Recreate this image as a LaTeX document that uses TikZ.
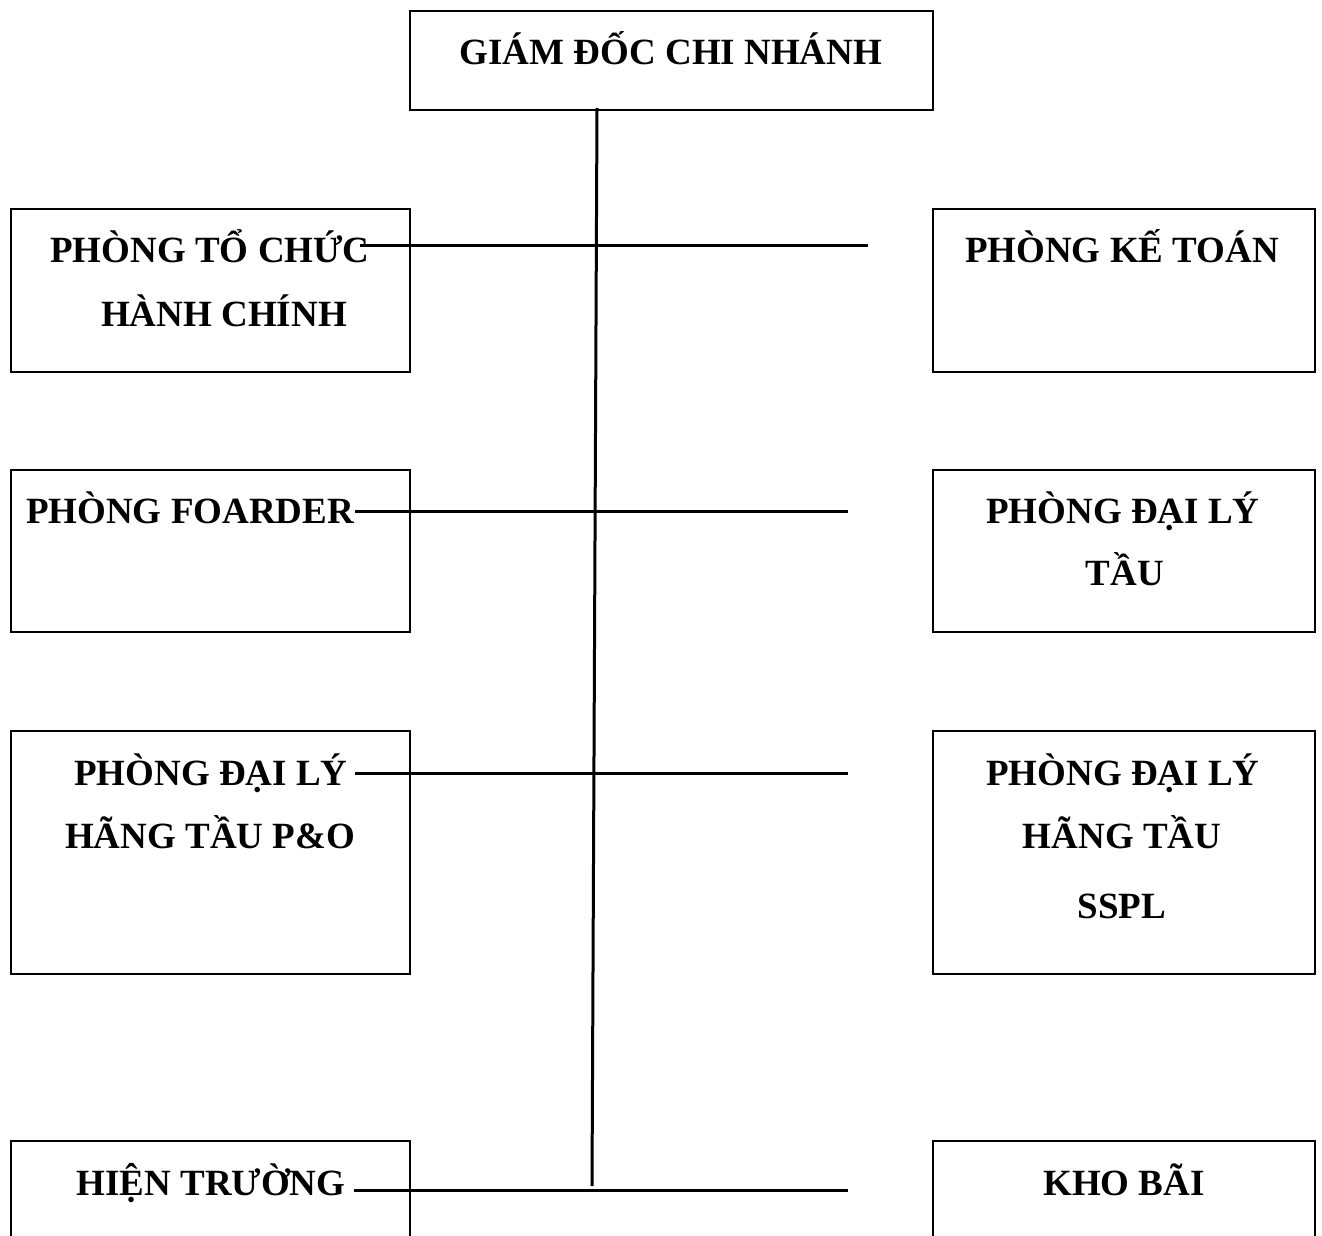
\documentclass[tikz,border=0pt]{standalone}
\usepackage{fontspec}
\setmainfont{Liberation Serif}
\begin{document}
\begin{tikzpicture}[x=1pt,y=-1pt,
  box/.style={draw=black,line width=2.7pt,rectangle,inner sep=0pt,outer sep=0pt},
  lbl/.style={anchor=base,inner sep=0pt,font=\fontsize{37}{44}\selectfont\bfseries},
  link/.style={draw=black,line width=3pt}]
\useasboundingbox (0,0) rectangle (1322,1236);
\clip (0,0) rectangle (1322,1236);
% boxes
\node[box,minimum width=523pt,minimum height=99pt] (gd) at (671.5,60.5) {};
\node[box,minimum width=399pt,minimum height=163pt] (tc) at (210.5,290.5) {};
\node[box,minimum width=382pt,minimum height=163pt] (kt) at (1124,290.5) {};
\node[box,minimum width=399pt,minimum height=162pt] (fw) at (210.5,551) {};
\node[box,minimum width=382pt,minimum height=162pt] (dlt) at (1124,551) {};
\node[box,minimum width=399pt,minimum height=243pt] (po) at (210.5,852.5) {};
\node[box,minimum width=382pt,minimum height=243pt] (ss) at (1124,852.5) {};
\node[box,minimum width=399pt,minimum height=160pt] (ht) at (210.5,1221) {};
\node[box,minimum width=382pt,minimum height=160pt] (kb) at (1124,1221) {};
% texts
\node[lbl] (t0) at (671,65) {GIÁM ĐỐC CHI NHÁNH};
\node[lbl] (t1a) at (210,262) {PHÒNG TỔ CHỨC};
\node[lbl] (t1b) at (224,326) {HÀNH CHÍNH};
\node[lbl] (t2) at (1122,262) {PHÒNG KẾ TOÁN};
\node[lbl] (t3) at (190,523) {PHÒNG FOARDER};
\node[lbl] (t4a) at (1123,523) {PHÒNG ĐẠI LÝ};
\node[lbl] (t4b) at (1125,585) {TẦU};
\node[lbl] (t5a) at (211,785) {PHÒNG ĐẠI LÝ};
\node[lbl] (t5b) at (210,848) {HÃNG TẦU P\&O};
\node[lbl] (t6a) at (1123,785) {PHÒNG ĐẠI LÝ};
\node[lbl] (t6b) at (1122,848) {HÃNG TẦU};
\node[lbl] (t6c) at (1122,918) {SSPL};
\node[lbl] (t7) at (211,1195) {HIỆN TRƯỜNG};
\node[lbl] (t8) at (1124,1195) {KHO BÃI};
% connector end points
\coordinate (vtop) at (597,108);
\coordinate (vbot) at (592,1186);
\coordinate (h1l) at (360,245); \coordinate (h1r) at (868,245);
\coordinate (h2l) at (355,511); \coordinate (h2r) at (848,511);
\coordinate (h3l) at (355,773); \coordinate (h3r) at (848,773);
\coordinate (h4l) at (354,1190); \coordinate (h4r) at (848,1190);
% connectors
\draw[link] (vtop) -- (vbot);
\draw[link] (h1l) -- (h1r);
\draw[link] (h2l) -- (h2r);
\draw[link] (h3l) -- (h3r);
\draw[link] (h4l) -- (h4r);
\end{tikzpicture}
\end{document}
